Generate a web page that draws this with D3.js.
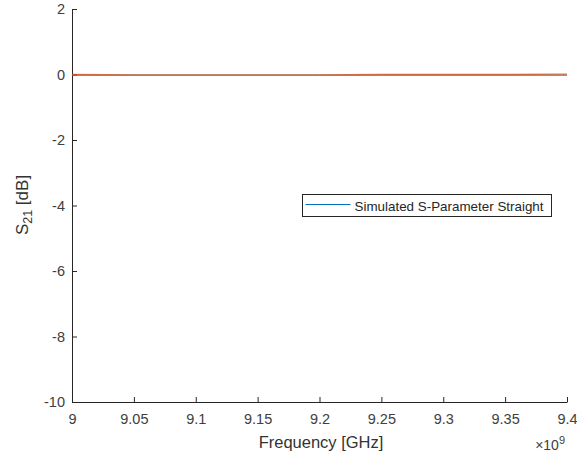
<!DOCTYPE html>
<html>
<head>
<meta charset="utf-8">
<script src="https://cdn.jsdelivr.net/npm/d3@7"></script>
<style>
  body { margin: 0; background: #fff; }
  text { font-family: "Liberation Sans", Arial, sans-serif; }
</style>
</head>
<body>
<svg id="chart" width="577" height="458"></svg>
<script>
// frequency points (Hz)
const freq = [9.0e9, 9.05e9, 9.1e9, 9.15e9, 9.2e9, 9.25e9, 9.3e9, 9.35e9, 9.4e9];
// simulated S21 (dB), straight line
const simS21 = [-0.02, -0.02, -0.02, -0.02, -0.02, -0.02, -0.02, -0.02, -0.02];
// second trace S21 (dB)
const measS21 = [0.0, -0.01, -0.01, -0.01, -0.01, 0.0, 0.0, 0.0, 0.01];

const xTicks = [9.0e9, 9.05e9, 9.1e9, 9.15e9, 9.2e9, 9.25e9, 9.3e9, 9.35e9, 9.4e9];
const yTicks = [2, 0, -2, -4, -6, -8, -10];

const width = 577;
const height = 458;
const margin = { top: 9, right: 10, bottom: 56, left: 72 };

const svg = d3.select('#chart');

const x = d3.scaleLinear()
  .domain([9.0e9, 9.4e9])
  .range([margin.left, width - margin.right]);

const y = d3.scaleLinear()
  .domain([-10, 2])
  .range([height - margin.bottom, margin.top]);

// x-axis
const xAxis = d3.axisBottom(x)
  .tickValues(xTicks)
  .tickSize(-5)
  .tickSizeOuter(0)
  .tickPadding(12)
  .tickFormat(d => d3.format('~g')(d / 1e9));

const gx = svg.append('g')
  .attr('transform', `translate(0, ${height - margin.bottom})`)
  .call(xAxis);

// y-axis
const yAxis = d3.axisLeft(y)
  .tickValues(yTicks)
  .tickSize(-5)
  .tickSizeOuter(0)
  .tickPadding(7)
  .tickFormat(d => String(d));

const gy = svg.append('g')
  .attr('transform', `translate(${margin.left}, 0)`)
  .call(yAxis);

[gx, gy].forEach(g => {
  g.select('.domain').attr('stroke', '#262626').attr('stroke-width', 1);
  g.selectAll('.tick line').attr('stroke', '#262626');
  g.selectAll('.tick text')
    .attr('fill', '#404040')
    .attr('font-size', '14.5px');
});

// lines
const line = vals => d3.line()
  .x((d, i) => x(freq[i]))
  .y(d => y(d))(vals);

svg.append('path')
  .attr('d', line(simS21))
  .attr('fill', 'none')
  .attr('stroke', '#0072BD')
  .attr('stroke-width', 1);

svg.append('path')
  .attr('d', line(measS21))
  .attr('fill', 'none')
  .attr('stroke', '#D95319')
  .attr('stroke-opacity', 0.8)
  .attr('stroke-width', 1.3);

// axis labels
svg.append('text')
  .attr('x', 321)
  .attr('y', 448)
  .attr('text-anchor', 'middle')
  .attr('font-size', '16.5px')
  .attr('fill', '#333')
  .text('Frequency [GHz]');

const yl = svg.append('text')
  .attr('transform', `translate(28, 205) rotate(-90)`)
  .attr('text-anchor', 'middle')
  .attr('font-size', '17px')
  .attr('fill', '#333');
yl.append('tspan').text('S');
yl.append('tspan').attr('font-size', '12.5px').attr('dy', 4).text('21');
yl.append('tspan').attr('dy', -4).text(' [dB]');

// exponent
const ex = svg.append('text')
  .attr('x', 565)
  .attr('y', 450)
  .attr('text-anchor', 'end')
  .attr('font-size', '14px')
  .attr('fill', '#404040');
ex.append('tspan').text('\u00d710');
ex.append('tspan').attr('font-size', '11px').attr('dy', -6).text('9');

// legend
const leg = svg.append('g').attr('transform', 'translate(302.5, 194.5)');
leg.append('rect')
  .attr('width', 249)
  .attr('height', 22)
  .attr('fill', '#fff')
  .attr('stroke', '#262626')
  .attr('stroke-width', 1);
leg.append('line')
  .attr('x1', 3).attr('x2', 48)
  .attr('y1', 10).attr('y2', 10)
  .attr('stroke', '#0072BD')
  .attr('stroke-width', 1);
leg.append('text')
  .attr('x', 52)
  .attr('y', 16)
  .attr('font-size', '13.4px')
  .attr('fill', '#262626')
  .text('Simulated S-Parameter Straight');
</script>
</body>
</html>
